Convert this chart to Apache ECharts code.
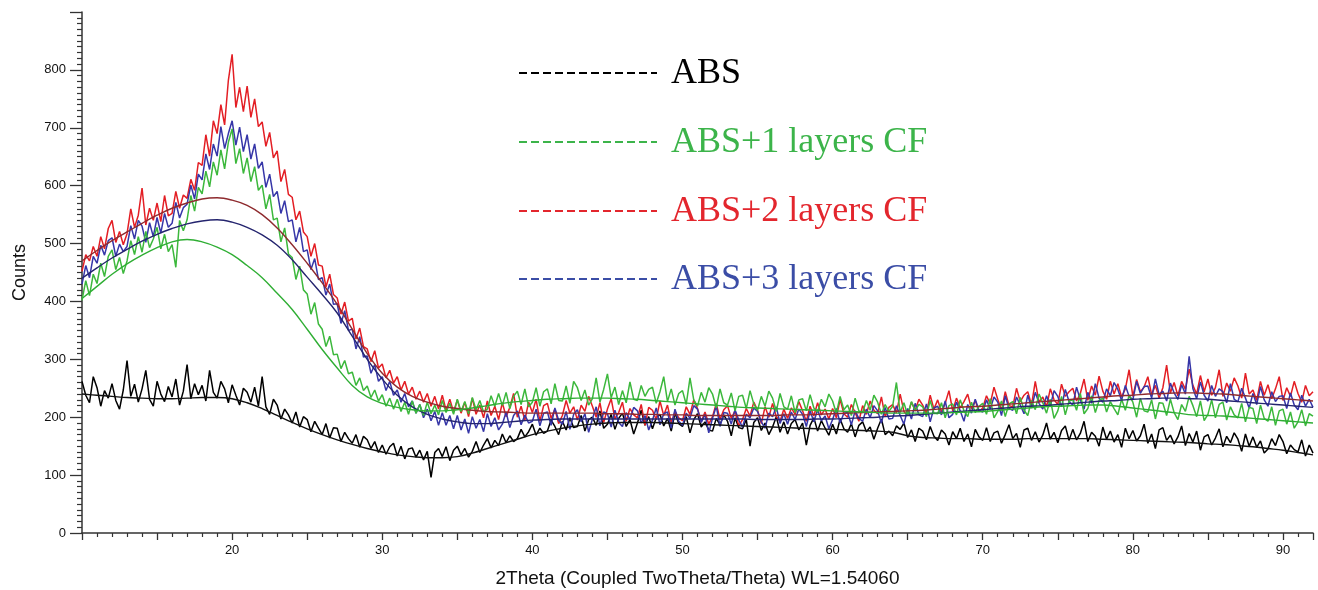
<!DOCTYPE html>
<html>
<head>
<meta charset="utf-8">
<script src="https://cdn.jsdelivr.net/npm/echarts@6/dist/echarts.min.js"></script>
<style>
html,body{margin:0;padding:0;background:#fff;}
#chart{width:1318px;height:590px;}
</style>
</head>
<body>
<div id="chart"></div>
<script>
// Sampling of the measured scans (2Theta, degrees)
const scanStart = 10;
const scanStep = 0.25;
const fitStart = 10;
const fitStep = 1;

const seriesNames = ['ABS', 'ABS+1 layers CF', 'ABS+2 layers CF', 'ABS+3 layers CF'];

// ABS (black) counts, 10..92 every 0.25 deg
const absCounts = [
262,238,225,270, 251,219,246,233, 258,229,214,247, 298,236,257,226, 249,281,231,219,
262,240,227,253, 235,266,221,245, 291,232,258,239, 255,228,281,243, 233,262,249,225,
256,238,221,250, 243,226,252,219, 270,218,205,231, 221,197,214,204, 190,209,183,201,
196,175,193,181, 170,189,164,182, 181,158,174,163, 155,170,148,167, 161,146,158,139,
152,136,149,155, 133,150,128,145, 147,131,143,126, 141,96,139,146, 132,149,125,143,
150,135,146,131, 141,158,139,152, 163,147,160,151, 171,156,168,158, 163,179,166,175,
188,169,181,172, 176,195,184,170, 193,178,199,182, 184,203,176,196, 200,186,211,181,
188,205,179,198, 207,184,196,171, 190,212,186,201, 180,199,205,185, 198,176,207,189,
184,201,173,196, 206,183,192,178, 176,198,187,204, 193,168,199,182, 180,196,150,191,
199,177,190,170, 183,201,174,192, 171,189,196,178, 190,152,186,199, 176,194,181,169,
188,171,197,180, 174,189,166,186, 192,175,183,162, 181,197,170,176, 168,185,179,190,
165,178,158,181, 176,161,184,167, 160,178,171,152, 175,163,181,158, 171,149,179,166,
160,182,158,173, 176,155,170,187, 163,172,148,178, 181,160,175,157, 169,190,162,174,
156,177,185,160, 179,161,172,193, 158,174,167,150, 183,162,176,157, 170,148,181,163,
177,159,168,188, 155,171,146,178, 182,160,169,154, 166,185,151,172, 157,176,143,166,
170,152,164,180, 149,167,156,173, 162,141,171,150, 166,148,159,138, 145,163,151,170,
158,137,152,144, 140,161,133,152, 138
];

// ABS+1 layers CF (green)
const cf1Counts = [
402,436,410,447, 431,466,443,478, 489,455,476,448, 470,505,481,512, 485,521,493,508,
528,491,516,486, 498,459,540,522, 541,583,556,597, 586,625,598,641, 618,662,629,675,
698,638,664,621, 648,607,633,592, 601,560,585,541, 544,503,527,482, 476,438,461,420,
413,378,398,361, 352,322,340,308, 309,284,298,275, 278,255,268,246, 254,234,247,228,
239,219,233,214, 231,210,226,205, 228,207,222,203, 226,206,221,204, 229,208,224,205,
231,210,227,206, 234,213,229,209, 214,237,219,241, 220,243,215,236, 245,222,249,218,
226,251,219,244, 249,223,258,229, 228,254,224,262, 251,229,247,221, 232,268,226,248,
275,234,252,222, 246,225,261,231, 229,255,236,248, 252,224,244,270, 227,249,221,241,
246,222,268,230, 219,243,226,251, 240,216,249,225, 221,242,211,236, 238,215,246,223,
212,236,219,245, 233,210,241,218, 214,237,208,230, 232,211,239,216, 209,231,218,240,
228,207,236,213, 221,203,233,211, 208,229,212,238, 226,205,222,210, 219,260,208,225,
204,227,211,222, 218,201,229,207, 206,225,199,220, 223,204,230,211, 201,226,208,219,
224,205,232,199, 210,228,201,223, 227,206,234,212, 203,229,213,240, 225,207,231,198,
211,236,204,228, 230,212,241,206, 215,237,208,229, 233,209,227,215, 204,231,212,238,
226,200,233,211, 209,230,197,225, 224,203,231,208, 196,222,210,236, 220,201,228,194,
205,230,199,222, 226,195,218,204, 199,224,192,217, 215,189,221,198, 193,218,186,211,
214,188,209,181, 192,213,185,206, 202
];

// ABS+2 layers CF (red)
const cf2Counts = [
452,481,470,495, 478,512,491,526, 540,502,521,498, 517,560,528,549, 596,532,561,540,
570,538,583,548, 552,590,561,584, 578,611,592,640, 635,688,651,712, 690,740,705,782,
827,735,770,728, 772,718,750,702, 710,668,692,648, 660,607,628,585, 580,541,556,520,
512,478,500,463, 461,425,447,412, 406,378,399,366, 371,335,354,322, 318,296,315,285,
292,268,281,259, 270,247,262,240, 252,231,245,226, 241,219,236,214, 238,212,231,209,
230,207,226,201, 233,205,221,199, 228,203,219,196, 225,201,217,241, 200,219,195,226,
208,231,193,220, 224,198,214,189, 203,229,207,218, 195,221,210,236, 219,200,225,191,
214,232,197,208, 226,193,215,204, 199,222,186,217, 212,196,228,203, 221,190,210,199,
194,218,205,230, 215,192,209,188, 201,224,196,213, 220,198,211,185, 196,215,202,226,
212,189,218,200, 224,201,193,214, 198,216,205,227, 211,193,219,202, 225,204,214,197,
215,199,231,206, 200,222,208,193, 220,205,228,212, 206,235,201,217, 222,207,240,210,
203,226,212,231, 221,206,238,214, 230,209,224,246, 211,233,216,227, 240,214,229,210,
216,237,223,252, 231,212,244,220, 218,250,227,238, 244,221,262,226, 235,218,249,230,
222,257,236,244, 250,228,241,266, 229,254,238,271, 245,231,262,240, 258,235,249,282,
236,265,244,252, 270,239,255,233, 251,290,242,260, 237,262,248,283, 255,240,272,244,
266,238,251,282, 236,259,245,268, 254,233,276,240, 247,229,262,238, 256,232,249,270,
229,251,236,262, 241,226,255,237, 244
];

// ABS+3 layers CF (blue)
const cf3Counts = [
430,462,441,478, 466,497,480,505, 510,478,499,486, 495,531,508,540, 530,502,536,512,
545,518,552,528, 535,571,544,562, 568,601,577,620, 610,655,628,672, 651,702,664,690,
712,670,701,659, 688,646,672,630, 641,597,620,581, 590,552,574,538, 541,503,528,486,
489,455,474,438, 441,411,430,395, 396,362,384,350, 352,318,339,304, 306,276,291,262,
270,246,262,238, 247,226,241,218, 228,207,222,199, 214,194,210,186, 208,186,203,180,
203,178,197,172, 201,181,196,175, 206,184,199,178, 188,209,182,203, 211,187,204,190,
193,214,185,207, 209,186,216,195, 188,210,179,205, 213,192,206,174, 197,218,185,209,
206,183,212,191, 184,208,196,217, 211,190,203,178, 195,216,187,206, 209,181,214,193,
186,207,198,220, 214,191,205,173, 198,219,184,208, 207,188,213,195, 183,205,199,216,
210,192,181,207, 201,218,189,206, 188,209,196,214, 205,184,211,192, 213,194,202,180,
196,215,190,207, 208,187,211,198, 193,214,199,220, 211,190,217,197, 198,220,203,188,
215,197,224,204, 201,223,192,216, 219,204,228,199, 205,226,211,193, 222,207,231,212,
209,230,214,235, 226,203,237,215, 212,235,221,206, 238,216,243,224, 214,237,219,246,
236,218,248,227, 221,252,230,214, 243,224,258,233, 226,249,237,260, 248,229,255,236,
230,262,241,253, 254,233,266,239, 245,228,259,242, 231,256,240,305, 249,232,261,238,
228,255,236,249, 244,225,258,231, 227,250,233,216, 241,222,253,230, 219,244,227,236,
237,215,242,221, 213,238,219,231, 217
];

// Smooth profile fits, 10..92 every 1 deg
const absFit = [240,238,236,234,233,232,232,233,234,234,232,225,215,203,191,180,170,161,153,146,140,135,132,130,130,132,138,146,154,162,170,176,181,185,188,190,191,191,191,190,189,188,187,186,185,184,183,182,181,180,179,178,177,176,174,168,165,164,163,163,162,162,162,163,163,163,163,163,162,161,160,159,158,157,156,154,153,151,149,146,143,139,135];
const cf1Fit = [405,426,447,465,480,493,503,507,503,494,481,462,441,414,386,352,317,285,255,235,224,217,213,211,211,213,216,220,224,227,229,231,232,233,233,233,232,231,229,227,225,223,221,219,217,216,215,214,213,212,211,210,209,208,207,207,207,207,208,209,210,212,214,216,218,219,220,221,221,219,216,213,210,207,204,203,202,200,198,196,194,192,190];
const cf2Fit = [470,488,505,520,535,549,561,570,577,579,575,566,550,527,498,466,432,395,352,310,276,252,236,226,219,215,212,210,209,208,207,207,207,207,207,206,206,205,205,204,204,203,203,203,203,203,203,204,204,205,206,207,208,209,210,211,212,214,216,218,219,221,223,225,227,229,231,233,235,237,238,240,241,242,242,241,240,238,236,234,232,230,228];
const cf3Fit = [440,458,475,490,504,516,526,534,539,541,537,528,515,497,472,442,412,380,340,300,266,238,218,205,197,192,189,189,191,193,195,196,197,197,197,197,197,197,197,197,197,197,197,197,197,196,196,196,196,197,197,198,199,200,202,203,205,207,209,211,213,215,217,219,220,222,224,226,228,229,231,232,233,233,232,231,229,227,225,223,221,219,217];

const yTickMax = 800;

function pairs(arr, start, step) {
  return arr.map(function (v, i) { return [start + i * step, v]; });
}

const colors = {
  abs: '#000000', cf1: '#3cb83c', cf2: '#e31e24', cf3: '#3636a8',
  absFit: '#111111', cf1Fit: '#2fae34', cf2Fit: '#8e2a2e', cf3Fit: '#24246e'
};
const legendColors = ['#000000', '#3cb44a', '#e3262d', '#3b4da6'];

function dataSeries(name, arr, color, z) {
  return {
    name: name, type: 'line', data: pairs(arr, scanStart, scanStep),
    showSymbol: false, symbol: 'none', z: z,
    lineStyle: { color: color, width: 1.5 }, itemStyle: { color: color }
  };
}
function fitSeries(name, arr, color, z) {
  return {
    name: name, type: 'line', data: pairs(arr, fitStart, fitStep),
    showSymbol: false, symbol: 'none', smooth: 0.4, z: z,
    lineStyle: { color: color, width: 1.4 }, itemStyle: { color: color }
  };
}

const legendYs = [73, 142, 211, 279];
const graphics = [];
seriesNames.forEach(function (n, i) {
  graphics.push({
    type: 'line', z: 100,
    shape: { x1: 519, y1: legendYs[i], x2: 657, y2: legendYs[i] },
    style: { stroke: legendColors[i], lineWidth: 2, lineDash: [8, 4] }
  });
  graphics.push({
    type: 'text', z: 100, left: 671, top: legendYs[i] - 17,
    style: { text: n, fill: legendColors[i], font: '36px "Liberation Serif", "Times New Roman", serif' }
  });
});

const chart = echarts.init(document.getElementById('chart'), null, { renderer: 'canvas' });
chart.setOption({
  animation: false,
  backgroundColor: '#ffffff',
  grid: { left: 82, right: 5, top: 12, bottom: 57, containLabel: false, outerBoundsMode: 'none' },
  xAxis: {
    type: 'value', min: 10, max: 92, interval: 5,
    name: '2Theta (Coupled TwoTheta/Theta) WL=1.54060',
    nameLocation: 'middle', nameGap: 36,
    nameTextStyle: { fontSize: 19, color: '#111', fontFamily: 'Liberation Sans, Arial, sans-serif' },
    axisLine: { lineStyle: { color: '#333', width: 1.5 } },
    axisTick: { show: true, inside: false, length: 7, lineStyle: { color: '#333', width: 1.3 } },
    minorTick: { show: true, splitNumber: 5, length: 4, lineStyle: { color: '#333', width: 1.2 } },
    axisLabel: {
      fontSize: 13, color: '#111', margin: 11, fontFamily: 'Liberation Sans, Arial, sans-serif',
      formatter: function (v) { return (v % 10 === 0 && v !== 10) ? String(v) : ''; }
    },
    splitLine: { show: false }, minorSplitLine: { show: false }
  },
  yAxis: {
    type: 'value', min: 0, max: 900, interval: 100,
    name: 'Counts', nameLocation: 'middle', nameGap: 53, nameRotate: 90,
    nameTextStyle: { fontSize: 18, color: '#111', fontFamily: 'Liberation Sans, Arial, sans-serif' },
    axisLine: { show: true, lineStyle: { color: '#333', width: 1.5 } },
    axisTick: { show: true, inside: false, length: 12, lineStyle: { color: '#333', width: 1.3 } },
    minorTick: { show: true, splitNumber: 10, length: 5, lineStyle: { color: '#333', width: 1.2 } },
    axisLabel: {
      fontSize: 13, color: '#111', margin: 16, fontFamily: 'Liberation Sans, Arial, sans-serif',
      formatter: function (v) { return v > yTickMax ? '' : String(v); }
    },
    splitLine: { show: false }, minorSplitLine: { show: false }
  },
  graphic: graphics,
  series: [
    dataSeries(seriesNames[0], absCounts, colors.abs, 2),
    dataSeries(seriesNames[2], cf2Counts, colors.cf2, 3),
    dataSeries(seriesNames[3], cf3Counts, colors.cf3, 4),
    dataSeries(seriesNames[1], cf1Counts, colors.cf1, 5),
    fitSeries(seriesNames[0] + ' fit', absFit, colors.absFit, 6),
    fitSeries(seriesNames[2] + ' fit', cf2Fit, colors.cf2Fit, 6),
    fitSeries(seriesNames[3] + ' fit', cf3Fit, colors.cf3Fit, 6),
    fitSeries(seriesNames[1] + ' fit', cf1Fit, colors.cf1Fit, 6)
  ]
});
</script>
</body>
</html>
